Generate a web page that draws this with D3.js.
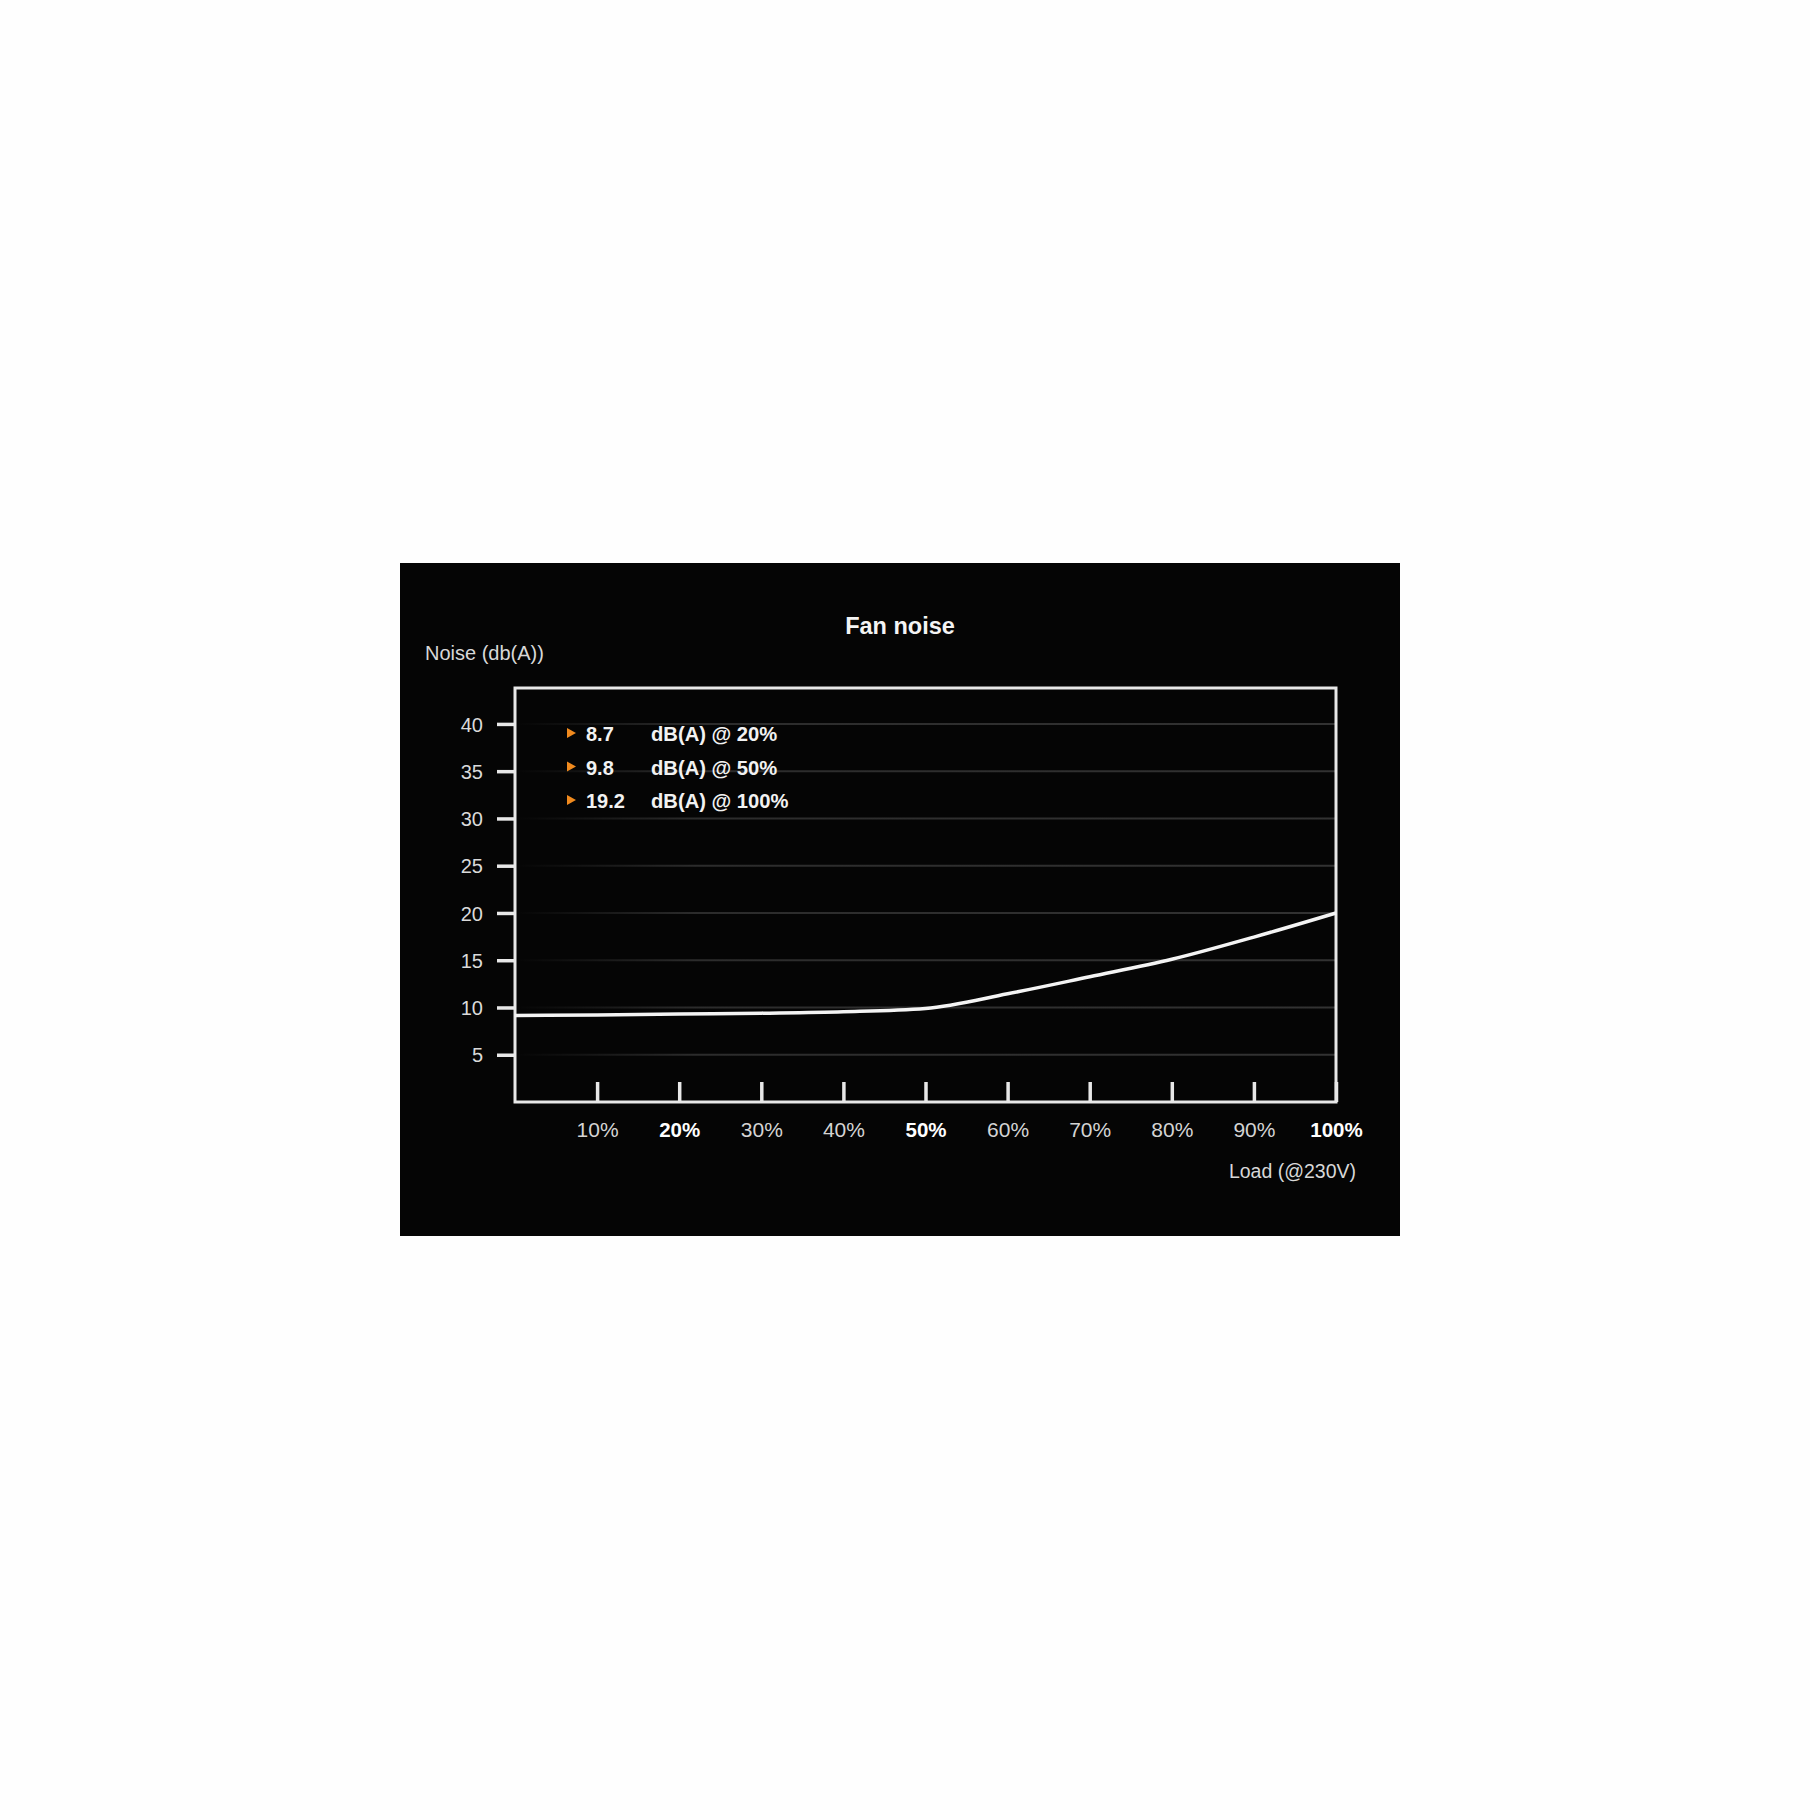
<!DOCTYPE html>
<html>
<head>
<meta charset="utf-8">
<script src="https://cdn.jsdelivr.net/npm/d3@7"></script>
<style>
  body { margin: 0; background: #fefefe; }
  svg { display: block; font-family: "Liberation Sans", Arial, sans-serif; }
</style>
</head>
<body>
<div class="container"></div>
<script>
const w = 1810;
const h = 1810;

// data
const loads = [0, 10, 20, 30, 40, 50, 60, 70, 80, 90, 100];
const noise = [9.15, 9.2, 9.3, 9.4, 9.55, 9.9, 11.45, 13.25, 15.1, 17.45, 20.0];
const xTicks = [10, 20, 30, 40, 50, 60, 70, 80, 90, 100];
const boldTicks = [20, 50, 100];
const yTicks = [5, 10, 15, 20, 25, 30, 35, 40];
const legendValues = ["8.7", "9.8", "19.2"];
const legendLabels = ["dB(A) @ 20%", "dB(A) @ 50%", "dB(A) @ 100%"];

const panel = {x: 400, y: 563, w: 1000, h: 673};
const plot = {left: 515, right: 1336, top: 688, bottom: 1102};

const svg = d3.select(".container")
          .append("svg")
          .attr("width", w)
          .attr("height", h);

// grid fade
const defs = svg.append("defs");
const grad = defs.append("linearGradient")
                .attr("id", "gridFade")
                .attr("gradientUnits", "userSpaceOnUse")
                .attr("x1", plot.left).attr("x2", plot.right)
                .attr("y1", 0).attr("y2", 0);
grad.append("stop").attr("offset", "0%").attr("stop-color", "#2c2c2c").attr("stop-opacity", 0);
grad.append("stop").attr("offset", "22%").attr("stop-color", "#2c2c2c").attr("stop-opacity", 1);
grad.append("stop").attr("offset", "100%").attr("stop-color", "#323232").attr("stop-opacity", 1);

svg.append("rect")
   .attr("x", panel.x).attr("y", panel.y)
   .attr("width", panel.w).attr("height", panel.h)
   .attr("fill", "#050505");

const xScale = d3.scaleLinear()
                 .domain([0, 100])
                 .range([plot.left, plot.right]);

const yScale = d3.scaleLinear()
                 .domain([0, 43.8])
                 .range([plot.bottom, plot.top]);

// gridlines
svg.append("g")
   .selectAll("line")
   .data(yTicks)
   .enter()
   .append("line")
   .attr("x1", plot.left)
   .attr("x2", plot.right)
   .attr("y1", d => yScale(d))
   .attr("y2", d => yScale(d))
   .attr("stroke", "url(#gridFade)")
   .attr("stroke-width", 2);

// y axis (ticks outside the frame)
const yAxis = d3.axisLeft(yScale)
                .tickValues(yTicks)
                .tickSize(18)
                .tickPadding(14);
const gy = svg.append("g")
              .attr("id", "y-axis")
              .attr("transform", "translate(" + plot.left + ",0)")
              .call(yAxis);
gy.select(".domain").remove();
gy.selectAll(".tick line").attr("stroke", "#e8e8e8").attr("stroke-width", 3.5);
gy.selectAll(".tick text")
  .attr("fill", "#dadada")
  .attr("font-size", 20)
  .attr("dy", "0.36em");

// x axis (ticks point up into the plot)
const xAxis = d3.axisBottom(xScale)
                .tickValues(xTicks)
                .tickSize(-20)
                .tickPadding(20)
                .tickFormat(d => d + "%");
const gx = svg.append("g")
              .attr("id", "x-axis")
              .attr("transform", "translate(0," + plot.bottom + ")")
              .call(xAxis);
gx.select(".domain").remove();
gx.selectAll(".tick line").attr("stroke", "#e8e8e8").attr("stroke-width", 3.5);
gx.selectAll(".tick text")
  .attr("font-size", d => boldTicks.includes(d) ? 20.5 : 21)
  .attr("fill", d => boldTicks.includes(d) ? "#ffffff" : "#d4d4d4")
  .attr("font-weight", d => boldTicks.includes(d) ? "bold" : "normal");

// frame
svg.append("rect")
   .attr("x", plot.left).attr("y", plot.top)
   .attr("width", plot.right - plot.left)
   .attr("height", plot.bottom - plot.top)
   .attr("fill", "none")
   .attr("stroke", "#e8e8e8")
   .attr("stroke-width", 3);

// noise curve
const line = d3.line()
               .x((d, i) => xScale(loads[i]))
               .y(d => yScale(d))
               .curve(d3.curveMonotoneX);
svg.append("path")
   .datum(noise)
   .attr("d", line)
   .attr("fill", "none")
   .attr("stroke", "#f4f4f4")
   .attr("stroke-width", 3.5);

// legend
const legend = svg.append("g")
                  .selectAll("g")
                  .data(legendValues)
                  .enter()
                  .append("g")
                  .attr("transform", (d, i) => "translate(0," + (741 + i * 33.5) + ")");
legend.append("path")
      .attr("d", "M567,-13 L576,-8 L567,-3 Z")
      .attr("fill", "#f08a1e");
legend.append("text")
      .attr("x", 586)
      .attr("font-size", 20)
      .attr("font-weight", "bold")
      .attr("fill", "#f2f2f2")
      .text(d => d);
legend.append("text")
      .attr("x", 651)
      .attr("font-size", 20.2)
      .attr("font-weight", "bold")
      .attr("fill", "#f2f2f2")
      .text((d, i) => legendLabels[i]);

// titles
svg.append("text")
   .attr("x", 900).attr("y", 634)
   .attr("text-anchor", "middle")
   .attr("font-size", 23.5)
   .attr("font-weight", "bold")
   .attr("fill", "#f4f4f4")
   .text("Fan noise");

svg.append("text")
   .attr("x", 425).attr("y", 660)
   .attr("font-size", 20)
   .attr("fill", "#d8d8d8")
   .text("Noise (db(A))");

svg.append("text")
   .attr("x", 1356).attr("y", 1178)
   .attr("text-anchor", "end")
   .attr("font-size", 19.5)
   .attr("fill", "#d8d8d8")
   .text("Load (@230V)");
</script>
</body>
</html>
